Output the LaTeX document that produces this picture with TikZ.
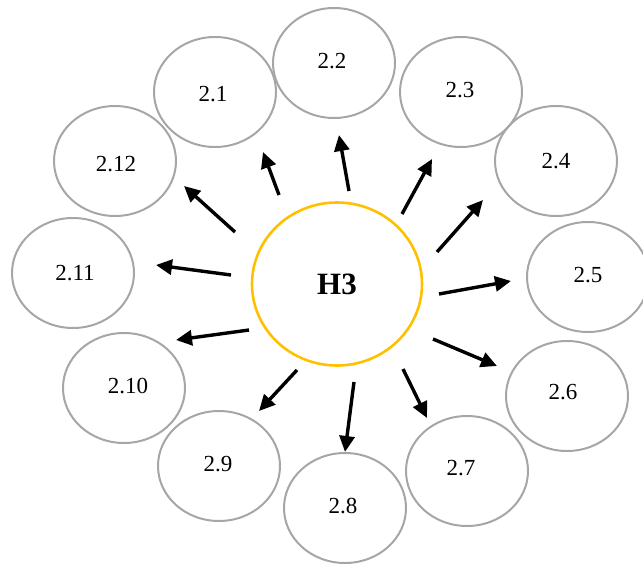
\documentclass[tikz,border=0pt]{standalone}
\usepackage{fontspec}
\setmainfont{Liberation Serif}
\usetikzlibrary{arrows.meta,shapes.geometric}
\definecolor{ringgray}{RGB}{166,166,166}
\definecolor{hubgold}{RGB}{255,192,0}
\begin{document}
\begin{tikzpicture}[x=1pt,y=-1pt,
  sub/.style={draw=ringgray, line width=2pt, ellipse, minimum width=122pt, minimum height=110pt, inner sep=0pt},
  subtext/.style={font=\fontsize{23}{26}\selectfont, inner sep=0pt},
  hub/.style={draw=hubgold, line width=2.6pt, ellipse, minimum width=170pt, minimum height=163pt, inner sep=0pt, font=\bfseries\fontsize{31}{34}\selectfont},
  arr/.style={line width=3.4pt, -{Triangle[length=16pt,width=15pt]}}]
\useasboundingbox (0,0) rectangle (643,565);
\node[hub] (h3) at (337,284) {H3};
\foreach \i/\cx/\cy/\dx/\dy in {
  1/215/92/-2/-2,
  2/334/63/-2/2,
  3/461/92/-1/2,
  4/556/161/0/0,
  5/588/277/0/2,
  6/567/396/-4/4,
  7/467/471/-6/3,
  8/345/508/-2/2,
  9/219/466/-1/2,
  10/124/388/4/2,
  11/73/273/2/0,
  12/115/161/1/-3}{
  \node[sub, label={[subtext, xshift=\dx pt, yshift=\dy pt]center:2.\i}] (e\i) at (\cx,\cy) {};
}
\foreach \i/\sx/\sy/\tx/\ty in {
  1/279/195/263/152,
  2/349/191/339/135,
  3/402/214/432/159,
  4/437/252/483/200,
  5/439/294/511/281,
  6/433/339/497/366,
  7/403/369/427/418,
  8/354/382/345/452,
  9/297/370/259/411,
  10/249/330/176/340,
  11/231/275/156/265,
  12/235/232/184/186}{
  \coordinate (s\i) at (\sx,\sy);
  \coordinate (t\i) at (\tx,\ty);
  \draw[arr] (s\i) -- (t\i);
}
\end{tikzpicture}
\end{document}
